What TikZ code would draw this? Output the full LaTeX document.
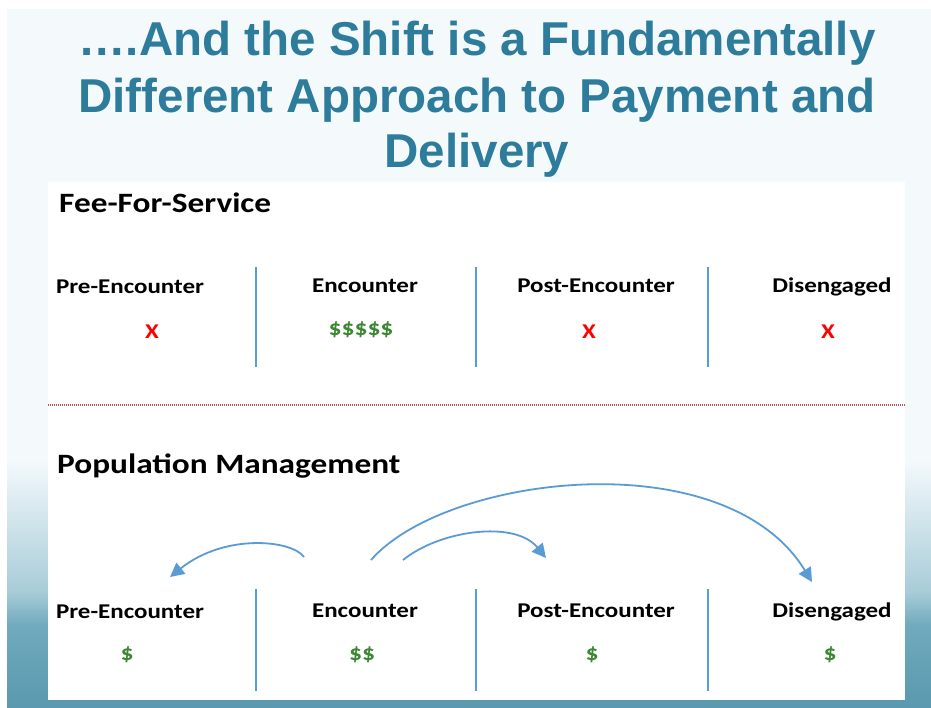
\documentclass[tikz,border=0pt]{standalone}
\usepackage{fontspec}
\setmainfont{Carlito}[FakeStretch=1.19]
\newfontfamily\titlefont{Liberation Sans}
\usetikzlibrary{arrows.meta}

\definecolor{titleblue}{RGB}{46,124,156}
\definecolor{slidebg}{RGB}{244,249,252}
\definecolor{teal1}{RGB}{168,204,216}
\definecolor{teal2}{RGB}{112,170,189}
\definecolor{teal3}{RGB}{90,153,175}
\definecolor{flowblue}{RGB}{91,155,213}
\definecolor{moneygreen}{RGB}{60,135,50}
\definecolor{dotred}{RGB}{178,88,88}

\begin{document}
\begin{tikzpicture}[x=1pt, y=-1pt,
    titleline/.style={anchor=base, inner sep=0pt, text=titleblue,
        font=\titlefont\bfseries\fontsize{47.5}{52}\selectfont},
    section/.style={anchor=base west, inner sep=0pt, font=\bfseries\fontsize{28}{32}\selectfont},
    phase/.style={anchor=base, inner sep=0pt, font=\bfseries\fontsize{21}{24}\selectfont},
    nopay/.style={anchor=base, inner sep=0pt, text=red, font=\bfseries\fontsize{21}{24}\selectfont},
    pay/.style={anchor=base, inner sep=0pt, text=moneygreen, font=\bfseries\fontsize{21.5}{24}\selectfont},
    divider/.style={flowblue, line width=1.2pt},
    flow/.style={flowblue, line width=1.8pt, -{Triangle[length=14pt,width=14pt]}}]
    \useasboundingbox (0,0) rectangle (931,707);
    \fill[white] (0,0) rectangle (931,707);

    % slide background
    \fill[slidebg] (7,9) rectangle (931,707);
    \shade[top color=slidebg, bottom color=teal1] (7,460) rectangle (931,592);
    \shade[top color=teal1, bottom color=teal2] (7,592) rectangle (931,625);
    \shade[top color=teal2, bottom color=teal3] (7,625) rectangle (931,707);

    % title
    \node[titleline] (title1) at (477,55) {\dots.And the Shift is a Fundamentally};
    \node[titleline] (title2) at (477,112) {Different Approach to Payment and};
    \node[titleline] (title3) at (477,167) {Delivery};

    % white panel
    \fill[white] (48,182) rectangle (905,700);
    \draw[dotred, line width=1.3pt, dash pattern=on 1pt off 1pt] (48,405) -- (905,405);

    %% fee-for-service
    \node[section] (ffs) at (59,212) {Fee-For-Service};
    \node[phase] (preA)  at (130,293) {Pre-Encounter};
    \node[phase] (encA)  at (365,292) {Encounter};
    \node[phase] (postA) at (596,292) {Post-Encounter};
    \node[phase] (disA)  at (832,292) {Disengaged};

    \node[nopay] (preAx)  at (152,338) {X};
    \node[pay]   (encAx)  at (361,335) {\$\$\$\$\$};
    \node[nopay] (postAx) at (589,338) {X};
    \node[nopay] (disAx)  at (828,338) {X};

    \draw[divider] (256,267) -- (256,367);
    \draw[divider] (476,267) -- (476,367);
    \draw[divider] (708,267) -- (708,367);

    %% population management
    \node[section] (popm) at (57,473) {Population Management};
    \node[phase] (preB)  at (130,618) {Pre-Encounter};
    \node[phase] (encB)  at (365,617) {Encounter};
    \node[phase] (postB) at (596,617) {Post-Encounter};
    \node[phase] (disB)  at (832,617) {Disengaged};

    \node[pay] (preBx)  at (127,660) {\$};
    \node[pay] (encBx)  at (362,660) {\$\$};
    \node[pay] (postBx) at (592,660) {\$};
    \node[pay] (disBx)  at (830,660) {\$};

    \draw[divider] (256,589) -- (256,691);
    \draw[divider] (476,589) -- (476,691);
    \draw[divider] (708,589) -- (708,691);

    % money moving out of the encounter
    \coordinate (outPre)  at (304,557);
    \coordinate (outDis)  at (371,560);
    \coordinate (outPost) at (403,560);
    \coordinate (inPre)   at (170,577);
    \coordinate (inDis)   at (812,582);
    \coordinate (inPost)  at (546,558);

    \draw[flow] (outPre) .. controls (292,540) and (225,533) .. (inPre);
    \draw[flow] (outDis) .. controls (445,475) and (725,440) .. (inDis);
    \draw[flow] (outPost) .. controls (440,530) and (515,520) .. (inPost);
\end{tikzpicture}
\end{document}
